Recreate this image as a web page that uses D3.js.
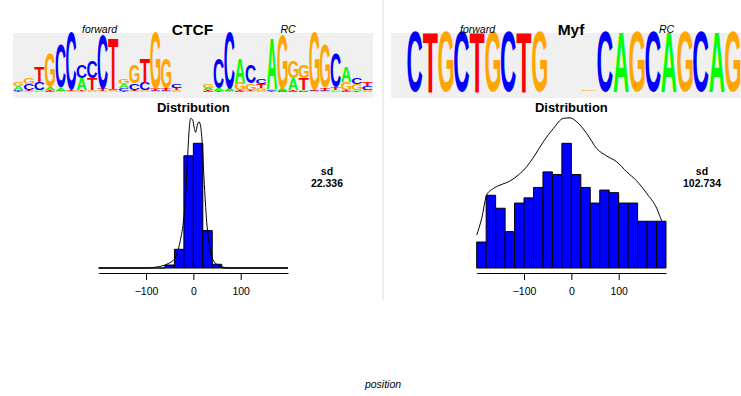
<!DOCTYPE html>
<html>
<head>
<meta charset="utf-8">
<script src="https://cdn.jsdelivr.net/npm/d3@7"></script>
<style>
  body { margin: 0; background: #fff; }
  svg { display: block; font-family: "Liberation Sans", Arial, sans-serif; }
</style>
</head>
<body>
<svg id="chart" width="741" height="396"></svg>
<script>
// bases and their logo colours
const bases = ["A", "C", "G", "T"];
const baseColors = { A: "#00ff00", C: "#0000ff", G: "#ffa500", T: "#ff0000" };

// motif logos: information (bits) per base at each position, order A, C, G, T
const ctcfForward = [
  [0.14, 0.05, 0.14, 0.02], [0.02, 0.20, 0.23, 0.03], [0.03, 0.28, 0.02, 0.52], [0.08, 0.02, 1.12, 0.05],
  [0.10, 1.45, 0.02, 0.02], [0.02, 1.95, 0.02, 0.02], [0.38, 0.45, 0.03, 0.05], [0.03, 0.57, 0.03, 0.40],
  [0.02, 1.82, 0.02, 0.08], [0.02, 0.05, 0.03, 1.68], [0.12, 0.10, 0.18, 0.03], [0.03, 0.22, 0.62, 0.03],
  [0.03, 0.25, 0.03, 0.80], [0.02, 0.02, 1.88, 0.08], [0.02, 0.03, 1.02, 0.08], [0.03, 0.12, 0.03, 0.08]
];
const ctcfRC = [
  [0.08, 0.03, 0.12, 0.03], [0.08, 1.02, 0.03, 0.02], [0.08, 1.88, 0.02, 0.02], [0.80, 0.03, 0.25, 0.03],
  [0.03, 0.62, 0.22, 0.03], [0.03, 0.18, 0.10, 0.12], [1.68, 0.03, 0.05, 0.02], [0.08, 0.02, 1.82, 0.02],
  [0.40, 0.03, 0.57, 0.03], [0.05, 0.03, 0.45, 0.38], [0.02, 0.02, 1.95, 0.02], [0.02, 0.02, 1.45, 0.10],
  [0.05, 1.12, 0.02, 0.08], [0.52, 0.02, 0.28, 0.03], [0.03, 0.23, 0.20, 0.02], [0.02, 0.14, 0.05, 0.14]
];
const myfForward = [
  [0, 2, 0, 0], [0, 0, 0, 2], [0, 0, 2, 0], [0, 2, 0, 0], [0, 0, 0, 2],
  [0, 0, 2, 0], [0, 2, 0, 0], [0, 0, 0, 2], [0, 0, 2, 0]
];
const myfRC = [
  [0.01, 0.01, 0.02, 0.01],
  [0, 2, 0, 0], [2, 0, 0, 0], [0, 0, 2, 0], [0, 2, 0, 0], [2, 0, 0, 0],
  [0, 0, 2, 0], [0, 2, 0, 0], [2, 0, 0, 0], [0, 0, 2, 0]
];

// histogram bins (position) and counts
const binEdges = [-200, -180, -160, -140, -120, -100, -80, -60, -40, -20, 0, 20, 40, 60, 80, 100, 120, 140, 160, 180, 200];
const ctcfCounts = [0, 0, 0, 0, 0, 0, 0, 2.4, 15, 90, 100, 30, 3, 0, 0, 0, 0, 0, 0, 0];
const myfCounts = [10, 28, 23, 14, 25, 27, 31, 37, 36, 48, 36, 31, 25, 30, 29, 25, 25, 18, 18, 18];

// density curves, same units as counts
const ctcfDensityX = [-200, -100, -77.5, -56.3, -38.7, -28.2, -21.1, -16.2, -12.7, -9.2, -5.6, -1.4, 2.1, 4.9, 8.5, 12, 15.5, 19, 22.5, 28.2, 35.2, 43.7, 59.9, 77.5, 200];
const ctcfDensityY = [0, 0, 0.8, 3, 7.8, 21, 37, 58.5, 85, 109, 120, 118.7, 112, 108.8, 114.7, 117.3, 113.3, 98.6, 72, 37, 15.8, 5, 1, 0, 0];
const myfDensityX = [-200, -189.4, -178.9, -164.8, -150.7, -129.6, -112, -94.4, -76.8, -59.2, -38, -16.9, -2.8, 11.3, 32.4, 53.5, 74.7, 95.8, 117, 138.2, 159.3, 180.3, 190.9];
const myfDensityY = [12.7, 19.1, 28.1, 30.6, 31.9, 33.5, 35.8, 39, 43.5, 48.6, 53.7, 57.6, 57.8, 56.3, 51.8, 46, 43.1, 40.9, 37, 33.5, 28.7, 23, 18.1];

const xTicks = [-100, 0, 100];

const panels = [
  { name: "CTCF", sd: "22.336", forward: ctcfForward, rc: ctcfRC, counts: ctcfCounts,
    densX: ctcfDensityX, densY: ctcfDensityY,
    logoX: [13, 373], fwdX: [13.3, 181.7], rcX: [203, 372.6], fwdLabel: 99.5, rcLabel: 288, title: 192.5,
    histX: [98.7, 288], sdX: 327 },
  { name: "Myf", sd: "102.734", forward: myfForward, rc: myfRC, counts: myfCounts,
    densX: myfDensityX, densY: myfDensityY,
    logoX: [391, 745], fwdX: [407.3, 547], rcX: [581.5, 740.5], fwdLabel: 477.5, rcLabel: 666.5, title: 571,
    histX: [476.7, 666], sdX: 702 }
];

const svg = d3.select("#chart");

// tight glyph boxes so letters can be stretched to fill their slot
const ctx = document.createElement("canvas").getContext("2d");
ctx.font = "bold 100px 'Liberation Sans'";
const glyph = {};
bases.forEach(b => {
  const m = ctx.measureText(b);
  glyph[b] = { l: m.actualBoundingBoxLeft, r: m.actualBoundingBoxRight, a: m.actualBoundingBoxAscent, d: m.actualBoundingBoxDescent };
});

const logoY = d3.scaleLinear().domain([0, 2]).range([92, 32]);

function drawLogo(g, matrix, range) {
  const x = d3.scaleBand().domain(d3.range(matrix.length)).range(range).paddingInner(0.04);
  matrix.forEach((col, i) => {
    const stack = bases.map((b, k) => ({ b, h: col[k] })).filter(d => d.h > 0).sort((a, b) => a.h - b.h);
    let cum = 0;
    stack.forEach(d => {
      const yBottom = logoY(cum), yTop = logoY(cum + d.h);
      cum += d.h;
      const hpx = yBottom - yTop;
      if (hpx < 0.2) return;
      const gl = glyph[d.b];
      g.append("text")
        .text(d.b)
        .attr("font-size", 100)
        .attr("font-weight", "bold")
        .attr("font-family", "'Liberation Sans', Arial, sans-serif")
        .attr("fill", baseColors[d.b])
        .attr("transform", `translate(${x(i)},${yTop}) scale(${x.bandwidth() / (gl.l + gl.r)},${hpx / (gl.a + gl.d)}) translate(${gl.l},${gl.a})`);
    });
  });
}

// divider between the two panels
svg.append("line")
  .attr("x1", 383).attr("x2", 383).attr("y1", 0).attr("y2", 300)
  .attr("stroke", "#dddddd").attr("stroke-width", 1);

panels.forEach(p => {
  const g = svg.append("g");

  // logo background
  g.append("rect")
    .attr("x", p.logoX[0]).attr("y", 33)
    .attr("width", p.logoX[1] - p.logoX[0]).attr("height", 65)
    .attr("fill", "#f0f0f0");

  drawLogo(g, p.forward, p.fwdX);
  drawLogo(g, p.rc, p.rcX);

  g.append("text").attr("x", p.title).attr("y", 35)
    .attr("text-anchor", "middle").attr("font-weight", "bold").attr("font-size", 15.5)
    .text(p.name);
  g.append("text").attr("x", p.fwdLabel).attr("y", 33)
    .attr("text-anchor", "middle").attr("font-style", "italic").attr("font-size", 10.5)
    .text("forward");
  g.append("text").attr("x", p.rcLabel).attr("y", 33)
    .attr("text-anchor", "middle").attr("font-style", "italic").attr("font-size", 10.5)
    .text("RC");

  // histogram
  const x = d3.scaleLinear().domain([-200, 200]).range(p.histX);
  const y = d3.scaleLinear().domain([0, d3.max(p.counts)]).range([268, 143.3]);

  g.append("text").attr("x", x(0)).attr("y", 111.5)
    .attr("text-anchor", "middle").attr("font-weight", "bold").attr("font-size", 13)
    .text("Distribution");

  g.selectAll("path.bar")
    .data(p.counts)
    .enter().append("path")
    .attr("class", "bar")
    .attr("d", (c, i) => `M${x(binEdges[i])},${y(0)}V${y(c)}H${x(binEdges[i + 1])}V${y(0)}Z`)
    .attr("fill", "#0000ff")
    .attr("stroke", "#000")
    .attr("stroke-width", 1);

  const line = d3.line()
    .x(d => x(d[0]))
    .y(d => y(d[1]))
    .curve(d3.curveMonotoneX);
  g.append("path")
    .attr("d", line(p.densX.map((v, i) => [v, p.densY[i]])))
    .attr("fill", "none")
    .attr("stroke", "#000")
    .attr("stroke-width", 1);

  const axis = g.append("g")
    .attr("transform", "translate(0,273)")
    .call(d3.axisBottom(x).tickValues(xTicks).tickSize(7).tickSizeOuter(0).tickPadding(7.5));
  axis.selectAll("path, line").attr("stroke", "#000");
  axis.selectAll("text").attr("font-size", 10.5).attr("fill", "#000")
    .attr("font-family", "'Liberation Sans', Arial, sans-serif");

  g.append("text").attr("x", p.sdX).attr("y", 175)
    .attr("text-anchor", "middle").attr("font-weight", "bold").attr("font-size", 10.5)
    .text("sd");
  g.append("text").attr("x", p.sdX).attr("y", 187)
    .attr("text-anchor", "middle").attr("font-weight", "bold").attr("font-size", 10.5)
    .text(p.sd);
});

svg.append("text").attr("x", 383).attr("y", 388)
  .attr("text-anchor", "middle").attr("font-style", "italic").attr("font-size", 10.5)
  .text("position");
</script>
</body>
</html>
